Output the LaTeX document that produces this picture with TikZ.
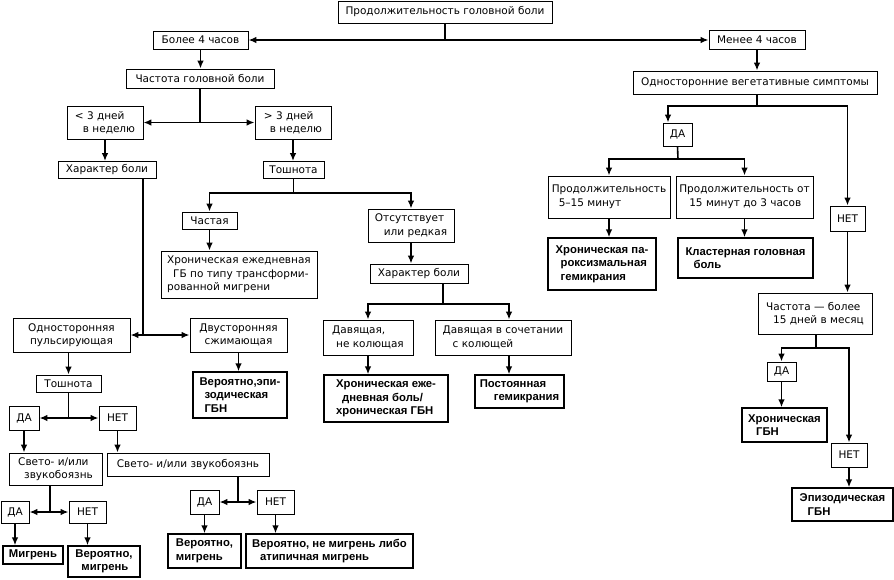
\documentclass[tikz,border=0pt]{standalone}
\usepackage{fontspec}
\setmainfont{DejaVu Sans}
\newfontfamily\boldfam{Liberation Sans}
\usetikzlibrary{arrows.meta}
\begin{document}
\begin{tikzpicture}[x=1pt,y=-1pt,
  box/.style={draw, line width=0.8pt, inner sep=2pt, align=left, font=\fontsize{10.5}{13.5}\selectfont},
  outbox/.style={box, line width=1.2pt, font=\boldfam\bfseries\fontsize{11.3}{13.5}\selectfont},
  sz/.style 2 args={minimum width=#1, minimum height=#2},
  ln/.style={line width=1.6pt},
  ar/.style={line width=1.6pt, -{Latex[length=8pt,width=6.5pt]}}
]
\useasboundingbox (0,0) rectangle (894,579);
% nodes
\node[box,sz={214}{22}] (top) at (445,12) {Продолжительность головной боли};
\node[box,sz={95}{18}] (bolee) at (200.5,40) {Более 4 часов};
\node[box,sz={96}{19}] (menee) at (757,40) {Менее 4 часов};
\node[box,sz={148}{19}] (chast) at (200,78.5) {Частота головной боли};
\node[box,sz={76}{33}] (lt3) at (105,122.5) {< 3 дней\\\hspace*{8pt}в неделю};
\node[box,sz={76}{33}] (gt3) at (293,122.5) {> 3 дней\\\hspace*{6pt}в неделю};
\node[box,sz={98}{17}] (har1) at (107,170) {Характер боли};
\node[box,sz={61}{17}] (tosh1) at (293.5,170) {Тошнота};
\node[box,sz={55}{17}] (chastaya) at (209.5,220.5) {Частая};
\node[box,sz={156}{47}] (hron1) at (239,274.5) {Хроническая ежедневная\\\hspace*{6pt}ГБ по типу трансформи-\\рованной мигрени};
\node[box,sz={86}{33}] (otsut) at (411,225.5) {Отсутствует\\\hspace*{9pt}или редкая};
\node[box,sz={98}{19}] (har2) at (419,273.5) {Характер боли};
\node[box,sz={90}{35}] (dav1) at (368,337.5) {Давящая,\\\hspace*{4pt}не колющая};
\node[box,sz={136}{35}] (dav2) at (503,337.5) {Давящая в сочетании\\\hspace*{10pt}с колющей};
\node[outbox,sz={124}{47}] (hron2) at (386,398.5) {Хроническая еже-\\\hspace*{6pt}дневная боль/\\хроническая ГБН};
\node[outbox,sz={89}{33}] (postoy) at (519.5,391.5) {Постоянная\\\hspace*{14pt}гемикрания};
\node[box,sz={117}{34},align=center] (odn) at (71.5,335) {Односторонняя\\пульсирующая};
\node[box,sz={97}{34},align=center] (dvu) at (238.5,335) {Двусторонняя\\сжимающая};
\node[outbox,sz={94}{46}] (verepi) at (240,395) {Вероятно,эпи-\\\hspace*{5pt}зодическая\\\hspace*{5pt}ГБН};
\node[box,sz={65}{17}] (tosh2) at (68.5,383.5) {Тошнота};
\node[box,sz={30}{24}] (da1) at (24,418) {ДА};
\node[box,sz={37}{24}] (net1) at (117.5,418) {НЕТ};
\node[box,sz={93}{32}] (svet1) at (55.5,469) {Свето- и/или\\\hspace*{6pt}звукобоязнь};
\node[box,sz={162}{23}] (svet2) at (188,464.5) {Свето- и/или звукобоязнь};
\node[box,sz={28}{22}] (da2) at (15,512) {ДА};
\node[box,sz={37}{22}] (net2) at (87.5,512) {НЕТ};
\node[outbox,sz={60}{18}] (migr) at (33,555) {Мигрень};
\node[outbox,sz={72}{31}] (verm1) at (104,561.5) {Вероятно,\\\hspace*{6pt}мигрень};
\node[box,sz={29}{24}] (da3) at (204.5,502) {ДА};
\node[box,sz={37}{24}] (net3) at (275.5,502) {НЕТ};
\node[outbox,sz={73}{34}] (verm2) at (204.5,551) {Вероятно,\\мигрень};
\node[outbox,sz={167}{34}] (verne) at (329.5,551) {Вероятно, не мигрень либо\\\hspace*{8pt}атипичная мигрень};
\node[box,sz={244}{23}] (odnveg) at (755,82.5) {Односторонние вегетативные симптомы};
\node[box,sz={29}{23}] (da4) at (677.5,134.5) {ДА};
\node[box,sz={122}{42}] (prod1) at (609,197) {Продолжительность\\\hspace*{7pt}5–15 минут};
\node[box,sz={137}{42}] (prod2) at (744.5,197) {Продолжительность от\\\hspace*{10pt}15 минут до 3 часов};
\node[outbox,sz={108}{52}] (hron3) at (602,264) {Хроническая па-\\\hspace*{5pt}роксизмальная\\\hspace*{5pt}гемикрания};
\node[outbox,sz={135}{40}] (klast) at (745.5,258) {Кластерная головная\\\hspace*{8pt}боль};
\node[box,sz={35}{25}] (net4) at (847.5,218.5) {НЕТ};
\node[box,sz={114}{41}] (chast15) at (815,313.5) {Частота — более\\\hspace*{7pt}15 дней в месяц};
\node[box,sz={29}{19}] (da5) at (781.5,371.5) {ДА};
\node[outbox,sz={85}{34}] (hron4) at (784.5,425) {Хроническая\\\hspace*{8pt}ГБН};
\node[box,sz={36}{24}] (net5) at (849,455) {НЕТ};
\node[outbox,sz={101}{33}] (epi) at (842.5,504.5) {Эпизодическая\\\hspace*{8pt}ГБН};
% helper coordinates
\coordinate (j0) at (445,40);
\coordinate (j1) at (200,122.5);
\coordinate (j2) at (143,335);
\coordinate (j3) at (293.5,193);
\coordinate (j4) at (443,304);
\coordinate (x509) at (509,0);
\coordinate (j6) at (68.5,418);
\coordinate (j7) at (50,512);
\coordinate (j8) at (238,502);
\coordinate (j9) at (757,106);
\coordinate (x668) at (668,0);
\coordinate (j10) at (678,159);
\coordinate (j11) at (816,348);
% connectors
\draw[ln] (top.south) -- (j0);
\draw[ar] (j0) -- (bolee.east);
\draw[ar] (j0) -- (menee.west);
\draw[ar] (bolee.south) -- (bolee.south |- chast.north);
\draw[ln] (chast.south) -- (j1);
\draw[ar] (j1) -- (lt3.east);
\draw[ar] (j1) -- (gt3.west);
\draw[ar] (lt3.south) -- (lt3.south |- har1.north);
\draw[ar] (gt3.south) -- (gt3.south |- tosh1.north);
\draw[ln] (har1.south -| j2) -- (j2);
\draw[ar] (j2) -- (odn.east);
\draw[ar] (j2) -- (dvu.west);
\draw[ln] (tosh1.south) -- (j3);
\draw[ar] (j3) -| (chastaya.north);
\draw[ar] (j3) -| (otsut.north);
\draw[ar] (chastaya.south) -- (chastaya.south |- hron1.north);
\draw[ar] (otsut.south) -- (otsut.south |- har2.north);
\draw[ln] (har2.south -| j4) -- (j4);
\draw[ar] (j4) -| (dav1.north);
\draw[ar] (j4) -| (dav2.north -| x509);
\draw[ar] (dav1.south) -- (dav1.south |- hron2.north);
\draw[ar] (dav2.south -| x509) -- (x509 |- postoy.north);
\draw[ar] (tosh2.north |- odn.south) -- (tosh2.north);
\draw[ar] (dvu.south) -- (dvu.south |- verepi.north);
\draw[ln] (tosh2.south) -- (j6);
\draw[ar] (j6) -- (da1.east);
\draw[ar] (j6) -- (net1.west);
\draw[ar] (da1.south) -- (da1.south |- svet1.north);
\draw[ar] (net1.south) -- (net1.south |- svet2.north);
\draw[ln] (svet1.south -| j7) -- (j7);
\draw[ar] (j7) -- (da2.east);
\draw[ar] (j7) -- (net2.west);
\draw[ar] (da2.south) -- (da2.south |- migr.north);
\draw[ar] (net2.south) -- (net2.south |- verm1.north);
\draw[ln] (svet2.south -| j8) -- (j8);
\draw[ar] (j8) -- (da3.east);
\draw[ar] (j8) -- (net3.west);
\draw[ar] (da3.south) -- (da3.south |- verm2.north);
\draw[ar] (net3.south) -- (net3.south |- verne.north);
\draw[ar] (menee.south) -- (menee.south |- odnveg.north);
\draw[ln] (odnveg.south -| j9) -- (j9);
\draw[ar] (j9) -| (da4.north -| x668);
\draw[ar] (j9) -| (net4.north);
\draw[ln] (da4.south) -- (j10);
\draw[ar] (j10) -| (prod1.north);
\draw[ar] (j10) -| (prod2.north);
\draw[ar] (prod1.south) -- (prod1.south |- hron3.north);
\draw[ar] (prod2.south) -- (prod2.south |- klast.north);
\draw[ar] (net4.south) -- (net4.south |- chast15.north);
\draw[ln] (chast15.south -| j11) -- (j11);
\draw[ar] (j11) -| (da5.north);
\draw[ar] (j11) -| (net5.north);
\draw[ar] (da5.south) -- (da5.south |- hron4.north);
\draw[ar] (net5.south) -- (net5.south |- epi.north);
\end{tikzpicture}
\end{document}
